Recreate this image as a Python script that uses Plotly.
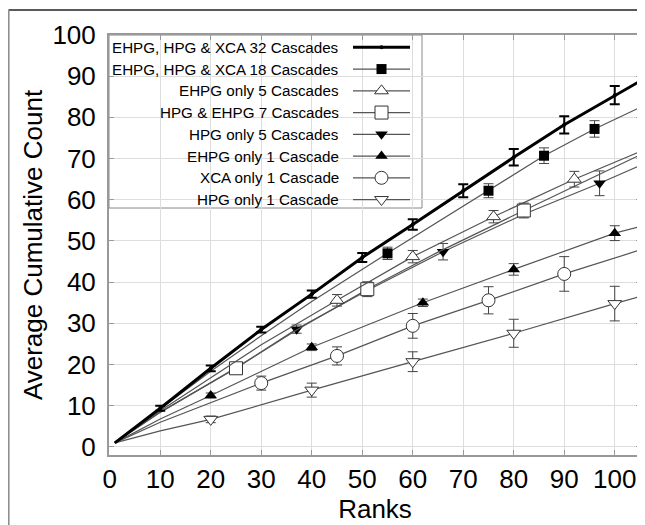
import plotly.graph_objects as go

# ---------------- data ----------------
names = [
    "EHPG, HPG & XCA 32 Cascades",
    "EHPG, HPG & XCA 18 Cascades",
    "EHPG only 5 Cascades",
    "HPG & EHPG 7 Cascades",
    "HPG only 5 Cascades",
    "EHPG only 1 Cascade",
    "XCA only 1 Cascade",
    "HPG only 1 Cascade",
]

# curves
s1_x = [1, 10, 20, 30, 40, 50, 60, 70, 80, 90, 100, 105]
s1_y = [1, 9.4, 19.1, 28.5, 37.1, 46.0, 54.0, 62.2, 70.3, 78.2, 85.4, 88.8]
s2_x = [1, 10, 20, 30, 40, 55, 75, 86, 96, 105]
s2_y = [1, 9.2, 18.4, 27.0, 35.3, 47.0, 62.2, 70.7, 77.2, 82.4]
s3_x = [1, 10, 20, 30, 45, 60, 76, 92, 105]
s3_y = [1, 8.8, 16.8, 24.8, 35.6, 46.2, 55.9, 65.0, 71.7]
s4_x = [1, 10, 25, 37, 51, 65, 82, 105]
s4_y = [1, 8.5, 19.1, 28.4, 38.3, 47.3, 57.4, 70.9]
s5_x = [1, 10, 25, 37, 51, 66, 82, 97, 105]
s5_y = [1, 8.4, 19.2, 28.6, 38.0, 47.4, 56.5, 64.0, 68.3]
s6_x = [1, 10, 20, 40, 62, 80, 100, 105]
s6_y = [1, 6.8, 12.5, 24.2, 35.0, 43.1, 51.9, 53.5]
s7_x = [1, 10, 30, 45, 60, 75, 90, 105]
s7_y = [1, 6.0, 15.5, 22.1, 29.4, 35.6, 42.0, 47.8]
s8_x = [1, 10, 20, 40, 60, 80, 100, 105]
s8_y = [1, 3.9, 6.7, 13.8, 20.7, 27.6, 34.8, 36.5]

# marked points with error bars
m1_x = [10, 20, 30, 40, 50, 60, 70, 80, 90, 100]
m1_y = [9.4, 19.1, 28.5, 37.1, 46.0, 54.0, 62.2, 70.3, 78.2, 85.4]
m1_e = [0.6, 0.7, 0.7, 0.9, 1.1, 1.3, 1.6, 2.0, 2.1, 2.2]
m2_x = [55, 75, 86, 96]
m2_y = [47.0, 62.2, 70.7, 77.2]
m2_e = [1.5, 1.7, 1.9, 2.0]
m3_x = [45, 60, 76, 92]
m3_y = [35.6, 46.2, 55.9, 65.0]
m3_e = [1.4, 1.5, 1.5, 1.9]
m4_x = [25, 51, 82]
m4_y = [19.1, 38.3, 57.4]
m4_e = [0.9, 1.8, 1.8]
m5_x = [37, 66, 97]
m5_y = [28.6, 47.4, 64.0]
m5_e = [1.0, 2.0, 3.0]
m6_x = [20, 40, 62, 80, 100]
m6_y = [12.5, 24.2, 35.0, 43.1, 51.9]
m6_e = [0.6, 0.8, 0.9, 1.4, 1.8]
m7_x = [30, 45, 60, 75, 90]
m7_y = [15.5, 22.1, 29.4, 35.6, 42.0]
m7_e = [1.7, 2.2, 3.0, 3.3, 4.2]
m8_x = [20, 40, 60, 80, 100]
m8_y = [6.7, 13.8, 20.7, 27.6, 34.8]
m8_e = [0.8, 1.7, 2.4, 3.4, 4.2]

x_ticks = [0, 10, 20, 30, 40, 50, 60, 70, 80, 90, 100]
y_ticks = [0, 10, 20, 30, 40, 50, 60, 70, 80, 90, 100]

# ---------------- styles ----------------
GRAY = "#555555"
series = [
    (s1_x, s1_y, m1_x, m1_y, m1_e, dict(symbol="circle", size=4, color="black"), "black", 3, 2),
    (s2_x, s2_y, m2_x, m2_y, m2_e, dict(symbol="square", size=10, color="black"), GRAY, 1.2, 1),
    (s3_x, s3_y, m3_x, m3_y, m3_e, dict(symbol="triangle-up", size=12, color="white", line=dict(color="#333", width=1)), GRAY, 1.2, 1),
    (s4_x, s4_y, m4_x, m4_y, m4_e, dict(symbol="square", size=13, color="white", line=dict(color="#333", width=1)), GRAY, 1.2, 1),
    (s5_x, s5_y, m5_x, m5_y, m5_e, dict(symbol="triangle-down", size=11, color="black"), GRAY, 1.2, 1),
    (s6_x, s6_y, m6_x, m6_y, m6_e, dict(symbol="triangle-up", size=11, color="black"), GRAY, 1.2, 1),
    (s7_x, s7_y, m7_x, m7_y, m7_e, dict(symbol="circle", size=13, color="white", line=dict(color="#333", width=1)), GRAY, 1.2, 1),
    (s8_x, s8_y, m8_x, m8_y, m8_e, dict(symbol="triangle-down", size=12, color="white", line=dict(color="#333", width=1)), GRAY, 1.2, 1),
]

fig = go.Figure()
# draw thin series first, thick last
order = [7, 6, 5, 4, 3, 2, 1, 0]
for i in order:
    lx, ly, mx, my, me, mk, lc, lw, et = series[i]
    fig.add_trace(go.Scatter(x=lx, y=ly, mode="lines", line=dict(color=lc, width=lw),
                             showlegend=False, hoverinfo="skip"))
    fig.add_trace(go.Scatter(x=mx, y=my, mode="markers", marker=mk,
                             error_y=dict(type="data", array=me, visible=True,
                                          color=("black" if i == 0 else "#444"),
                                          thickness=et, width=5),
                             showlegend=False, name=names[i]))

# ---------------- layout geometry (page pixels; page body has an 8px margin) ----------------
OFF = 8
FIG_W, FIG_H = 645 - OFF, 525 - OFF
L, R, T, B = 109 - OFF, 641 - OFF, 35 - OFF, 455 - OFF
W, H = R - L, B - T
def fx(px):
    return (px - OFF - L) / W
def fy(py):
    return 1 - (py - OFF - T) / H

row_y0, row_dy = 47.3, 21.75
for i, nm in enumerate(names):
    py = row_y0 + i * row_dy
    lx, ly, mx, my, me, mk, lc, lw, et = series[i]
    fig.add_trace(go.Scatter(x=[fx(353), fx(410)], y=[fy(py), fy(py)], mode="lines",
                             line=dict(color=lc, width=lw), xaxis="x2", yaxis="y2",
                             showlegend=False, hoverinfo="skip"))
    fig.add_trace(go.Scatter(x=[fx(381.5)], y=[fy(py)], mode="markers", marker=mk,
                             xaxis="x2", yaxis="y2", showlegend=False, hoverinfo="skip"))
    fig.add_annotation(x=fx(341), y=fy(py), xref="paper", yref="paper", text=nm,
                       showarrow=False, xanchor="right", yanchor="middle",
                       font=dict(size=15.2, color="black", family="Liberation Sans"))

fig.add_shape(type="rect", xref="paper", yref="paper", x0=0, x1=fx(422), y0=fy(208), y1=1,
              line=dict(color="#888", width=1), fillcolor="white", layer="between")

# outer frame of the figure
fig.add_shape(type="line", xref="paper", yref="paper", x0=fx(8.5), x1=fx(645), y0=fy(10), y1=fy(10),
              line=dict(color="#222", width=1.5))
fig.add_shape(type="line", xref="paper", yref="paper", x0=fx(8.8), x1=fx(8.8), y0=fy(10), y1=fy(525),
              line=dict(color="#888", width=1.5))

axis_common = dict(showgrid=True, gridcolor="#dddddd", gridwidth=1, zeroline=False,
                   showline=True, linecolor="#999", linewidth=2, mirror="allticks",
                   ticks="inside", ticklen=5, tickcolor="#999", automargin=False,
                   tickfont=dict(size=26, family="Liberation Sans", color="black"))

fig.update_layout(
    width=FIG_W, height=FIG_H,
    margin=dict(l=L, r=FIG_W - R, t=T, b=FIG_H - B, autoexpand=False),
    paper_bgcolor="white", plot_bgcolor="white",
    font=dict(family="Liberation Sans", color="black"),
    xaxis=dict(range=[-0.15, 105.2], tickvals=x_ticks, **axis_common,
               title=dict(text="Ranks", font=dict(size=26), standoff=6)),
    yaxis=dict(range=[-1.95, 100], tickvals=y_ticks, **axis_common, ticklabelstandoff=6,
               title=dict(text="Average Cumulative Count", font=dict(size=26), standoff=2)),
    xaxis2=dict(range=[0, 1], overlaying="x", visible=False, fixedrange=True),
    yaxis2=dict(range=[0, 1], overlaying="y", visible=False, fixedrange=True),
)

fig.write_html("out.html")
